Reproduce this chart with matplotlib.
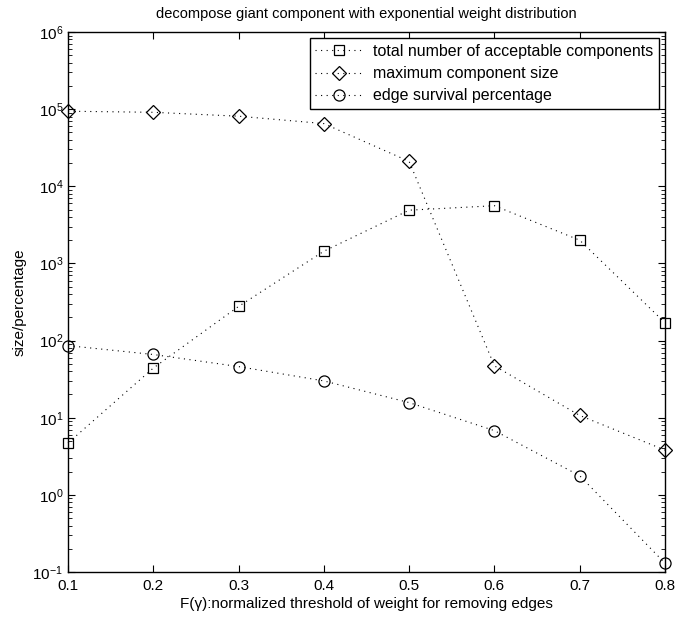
import numpy as np
import matplotlib
matplotlib.use('Agg')
import matplotlib.pyplot as plt
from matplotlib.ticker import LogLocator, FixedLocator, NullFormatter

plt.rcParams['font.family'] = ['Liberation Sans', 'DejaVu Sans']
plt.rcParams['mathtext.fontset'] = 'custom'
plt.rcParams['mathtext.rm'] = 'Liberation Sans'
plt.rcParams['mathtext.it'] = 'Liberation Sans:italic'

# Values
thresholds = [0.1, 0.2, 0.3, 0.4, 0.5, 0.6, 0.7, 0.8]
num_components = [4.7, 44, 277, 1440, 4900, 5600, 2000, 170]
max_component = [94000, 91000, 81000, 65000, 21000, 47, 10.7, 3.8]
edge_survival = [86, 66, 46, 30, 15.7, 6.8, 1.77, 0.13]
x_ticks = [0.1, 0.2, 0.3, 0.4, 0.5, 0.6, 0.7, 0.8]
y_exponents = [-1, 0, 1, 2, 3, 4, 5, 6]

fig = plt.figure(figsize=(6.78, 6.18), dpi=100)
ax = fig.add_axes([68/678, 1 - 572/618, (665-68)/678, (572-32)/618])

line_kw = dict(color='black', linestyle=(0, (1, 4)), linewidth=0.8,
               markerfacecolor='none', markeredgecolor='black', markeredgewidth=0.9,
               clip_on=False)
ax.plot(thresholds, num_components, marker='s', markersize=7.5, label='total number of acceptable components', **line_kw)
ax.plot(thresholds, max_component, marker='D', markersize=7, label='maximum component size', **line_kw)
ax.plot(thresholds, edge_survival, marker='o', markersize=8, label='edge survival percentage', **line_kw)

ax.set_yscale('log')
ax.set_xlim(0.1, 0.8)
ax.set_ylim(1e-1, 1e6)
ax.xaxis.set_major_locator(FixedLocator(x_ticks))
ax.set_xticklabels([f'{t:.1f}' for t in x_ticks])
ax.set_yticks([10.0 ** e for e in y_exponents])
ax.set_yticklabels([f'$10^{{{e}}}$' for e in y_exponents])
ax.yaxis.set_minor_locator(LogLocator(base=10, subs=np.arange(2, 10), numticks=10))
ax.yaxis.set_minor_formatter(NullFormatter())

ax.tick_params(which='both', direction='in', top=True, right=True, labelsize=11)
ax.tick_params(which='major', length=5, width=0.8)
ax.tick_params(which='minor', length=3, width=0.6)
ax.tick_params(axis='x', pad=5)
for s in ax.spines.values():
    s.set_linewidth(1.0)

ax.set_title('decompose giant component with exponential weight distribution', fontsize=10.5, pad=10)
ax.set_xlabel('F(\u03b3):normalized threshold of weight for removing edges', fontsize=11, labelpad=3)
ax.set_ylabel('size/percentage', fontsize=11, labelpad=4)

leg = ax.legend(loc='upper right', fontsize=11.5, handlelength=3, handletextpad=0.6,
                borderaxespad=0.4, labelspacing=0.45, fancybox=False, framealpha=1,
                borderpad=0.35)
leg.get_frame().set_edgecolor('black')
leg.get_frame().set_linewidth(1.0)

fig.savefig('out.png', dpi=100)
